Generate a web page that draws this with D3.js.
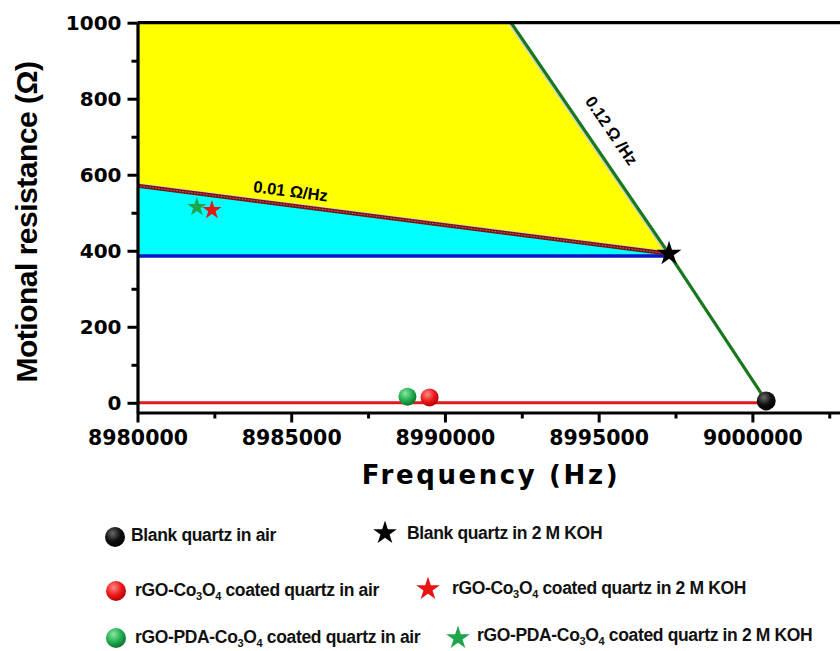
<!DOCTYPE html>
<html>
<head>
<meta charset="utf-8">
<script src="https://cdn.jsdelivr.net/npm/d3@7"></script>
<style>
  body { margin: 0; background: #fff; }
  svg { display: block; }
</style>
</head>
<body>
<svg id="chart" width="840" height="651"></svg>
<script>
// motional resistance vs frequency

var freqTicks = [8980000, 8985000, 8990000, 8995000, 9000000];
var freqMinor = [8982500, 8987500, 8992500, 8997500, 9002500];
var resTicks = [0, 200, 400, 600, 800, 1000];
var resMinor = [100, 300, 500, 700, 900];

// in air (spheres) and in 2 M KOH (stars): blank, rGO-Co3O4, rGO-PDA-Co3O4
var airFreq = [9000450, 8989500, 8988780];
var airRes = [5, 14, 16];
var kohFreq = [8997290, 8982420, 8981930];
var kohRes = [392, 507, 515];
var sampleColors = ["#000000", "#e81515", "#1fa64a"];
var airLabels = ["Blank quartz in air", "rGO-Co_3O_4 coated quartz in air", "rGO-PDA-Co_3O_4 coated quartz in air"];
var kohLabels = ["Blank quartz in 2 M KOH", "rGO-Co_3O_4 coated quartz in 2 M KOH", "rGO-PDA-Co_3O_4 coated quartz in 2 M KOH"];

// guide lines  [freq, res]
var redLine = [[8980000, 0], [9000450, 0]];
var blueLine = [[8980000, 386], [8997290, 386]];
var brownLine = [[8980000, 571], [8997290, 392]];
var greenLine = [[8992150, 1000], [8997290, 392], [9000450, 5]];
var yellowArea = [[8980000, 1000], [8992050, 1000], [8997290, 392], [8980000, 571]];
var cyanArea = [[8980000, 571], [8997290, 392], [8997290, 386], [8980000, 386]];
var slopeLabels = ["0.01 \u03A9/Hz", "0.12 \u03A9 /Hz"];

var svg = d3.select("#chart");

var x = d3.scaleLinear().domain([8980000, 9002850]).range([137.5, 840]);
var y = d3.scaleLinear().domain([-25.5, 1000]).range([412.5, 22.7]);

var line = d3.line().x(function (d) { return x(d[0]); }).y(function (d) { return y(d[1]); });

// gradients for the spheres
var defs = svg.append("defs");
var shades = [["#6a6a6a", "#111", "#000"], ["#ff8a8a", "#ee1c1c", "#b30000"], ["#8de6a6", "#22b04f", "#0b7030"]];
shades.forEach(function (s, i) {
    var g = defs.append("radialGradient").attr("id", "ball" + i)
        .attr("cx", "38%").attr("cy", "32%").attr("r", "70%");
    g.append("stop").attr("offset", "0%").attr("stop-color", s[0]);
    g.append("stop").attr("offset", "55%").attr("stop-color", s[1]);
    g.append("stop").attr("offset", "100%").attr("stop-color", s[2]);
});

// filled regions
svg.append("path").attr("d", line(yellowArea) + "Z").attr("fill", "#ffff00");
svg.append("path").attr("d", line(cyanArea) + "Z").attr("fill", "#00ffff");

svg.append("path").attr("d", line(blueLine)).attr("fill", "none")
    .attr("stroke", "#0a14c8").attr("stroke-width", 3.5);

svg.append("path").attr("d", line(brownLine)).attr("fill", "none")
    .attr("transform", "translate(0,-1.5)")
    .attr("stroke", "#d0d0d0").attr("stroke-width", 2.5);
svg.append("path").attr("d", line(brownLine)).attr("fill", "none")
    .attr("stroke", "#7a1212").attr("stroke-width", 4);
svg.append("path").attr("d", line(brownLine)).attr("fill", "none")
    .attr("stroke", "#c46a6a").attr("stroke-width", 1).attr("stroke-dasharray", "1.5,1.5");

svg.append("path").attr("d", line(greenLine.slice(0, 2))).attr("fill", "none")
    .attr("transform", "translate(-2.6,0)")
    .attr("stroke", "#d0d0d0").attr("stroke-width", 2);
svg.append("path").attr("d", line(greenLine)).attr("fill", "none")
    .attr("stroke", "#17781c").attr("stroke-width", 3.2);

svg.append("path").attr("d", line(redLine)).attr("fill", "none")
    .attr("stroke", "#e01a1a").attr("stroke-width", 3);

// slope labels, turned along their lines
function angleOf(a, b) {
    return Math.atan2(y(b[1]) - y(a[1]), x(b[0]) - x(a[0])) * 180 / Math.PI;
}
svg.append("text")
    .attr("transform", "translate(" + x(8984980) + "," + y(557) + ") rotate(" + angleOf(brownLine[0], brownLine[1]) + ")")
    .attr("text-anchor", "middle").attr("dy", "0.35em")
    .style("font-family", "Liberation Sans, Arial, sans-serif")
    .style("font-weight", "bold").style("font-size", "16.5px")
    .text(slopeLabels[0]);
svg.append("text")
    .attr("transform", "translate(" + x(8995420) + "," + y(716) + ") rotate(" + angleOf(greenLine[0], greenLine[1]) + ")")
    .attr("text-anchor", "middle").attr("dy", "0.35em")
    .style("font-family", "Liberation Sans, Arial, sans-serif")
    .style("font-size", "16.5px").style("font-weight", "600")
    .text(slopeLabels[1]);

// markers
var star = d3.symbol().type(d3.symbolStar);
svg.selectAll(".air").data(airFreq).enter().append("circle")
    .attr("class", "air")
    .attr("cx", function (d) { return x(d); })
    .attr("cy", function (d, i) { return y(airRes[i]); })
    .attr("r", function (d, i) { return i === 0 ? 9.5 : 9; })
    .attr("fill", function (d, i) { return "url(#ball" + i + ")"; });

svg.selectAll(".koh").data(kohFreq).enter().append("path")
    .attr("class", "koh")
    .attr("transform", function (d, i) { return "translate(" + x(d) + "," + y(kohRes[i]) + ")"; })
    .attr("d", function (d, i) { return star.size(i === 0 ? 190 : 115)(); })
    .attr("fill", function (d, i) { return sampleColors[i]; });

// axes
var tickFont = "DejaVu Sans, Verdana, sans-serif";

var xAxis = svg.append("g").attr("transform", "translate(0," + y.range()[0] + ")")
    .call(d3.axisBottom(x).tickValues(freqTicks).tickSize(10).tickSizeOuter(0).tickPadding(8).tickFormat(d3.format("d")));
svg.append("g").attr("transform", "translate(0," + y.range()[0] + ")")
    .call(d3.axisBottom(x).tickValues(freqMinor).tickSize(6).tickSizeOuter(0).tickFormat(""))
    .select(".domain").remove();

var yAxis = svg.append("g").attr("transform", "translate(" + x.range()[0] + ",0)")
    .call(d3.axisLeft(y).tickValues(resTicks).tickSize(10).tickSizeOuter(0).tickPadding(6).tickFormat(d3.format("d")));
svg.append("g").attr("transform", "translate(" + x.range()[0] + ",0)")
    .call(d3.axisLeft(y).tickValues(resMinor).tickSize(6).tickSizeOuter(0).tickFormat(""))
    .select(".domain").remove();

svg.selectAll(".tick line").attr("stroke", "#000").attr("stroke-width", 3);
svg.selectAll(".domain").attr("stroke", "#000").attr("stroke-width", 3.2);

xAxis.selectAll("text")
    .style("font-family", tickFont).style("font-weight", "bold").style("font-size", "20.5px")
    .attr("fill", "#000");
yAxis.selectAll("text")
    .style("font-family", tickFont).style("font-weight", "bold").style("font-size", "20px")
    .attr("fill", "#000");

// top frame
svg.append("line")
    .attr("x1", x.range()[0]).attr("x2", x.range()[1])
    .attr("y1", y(1000)).attr("y2", y(1000))
    .attr("stroke", "#000").attr("stroke-width", 3.2);

// axis titles
svg.append("text")
    .attr("x", 491).attr("y", 484)
    .attr("text-anchor", "middle")
    .style("font-family", tickFont).style("font-weight", "bold")
    .style("font-size", "26px").style("letter-spacing", "2.6px")
    .text("Frequency (Hz)");

svg.append("text")
    .attr("transform", "translate(37,222) rotate(-90)")
    .attr("text-anchor", "middle")
    .style("font-family", "Liberation Sans, Arial, sans-serif").style("font-weight", "bold")
    .style("font-size", "30px").style("letter-spacing", "-0.5px")
    .text("Motional resistance (\u03A9)");

// legend
var legendRows = [541, 596, 643];
var ballX = [115, 116, 116];
var ballY = [537, 591, 638];
var starX = [385, 428, 458];
var starY = [533, 589, 638];
var airTextX = [131, 135, 135];
var kohTextX = [407, 452, 477];

function labelText(sel, str) {
    var parts = str.split(/_(\d)/);
    parts.forEach(function (p, i) {
        if (i % 2 === 1) {
            sel.append("tspan").attr("dy", 4).style("font-size", "11px").text(p);
        } else if (p.length) {
            sel.append("tspan").attr("dy", i === 0 ? 0 : -4).text(p);
        }
    });
}

sampleColors.forEach(function (c, i) {
    svg.append("circle").attr("cx", ballX[i]).attr("cy", ballY[i]).attr("r", 10)
        .attr("fill", "url(#ball" + i + ")");
    svg.append("path").attr("transform", "translate(" + starX[i] + "," + starY[i] + ")")
        .attr("d", star.size(175)()).attr("fill", c);

    var t1 = svg.append("text").attr("x", airTextX[i]).attr("y", legendRows[i])
        .style("font-family", "Liberation Sans, Arial, sans-serif").style("font-weight", "bold")
        .style("font-size", "17.5px").style("letter-spacing", "-0.35px").attr("fill", "#111");
    labelText(t1, airLabels[i]);
    var t2 = svg.append("text").attr("x", kohTextX[i]).attr("y", legendRows[i] - 2)
        .style("font-family", "Liberation Sans, Arial, sans-serif").style("font-weight", "bold")
        .style("font-size", "17.5px").style("letter-spacing", "-0.35px").attr("fill", "#111");
    labelText(t2, kohLabels[i]);
});
</script>
</body>
</html>
